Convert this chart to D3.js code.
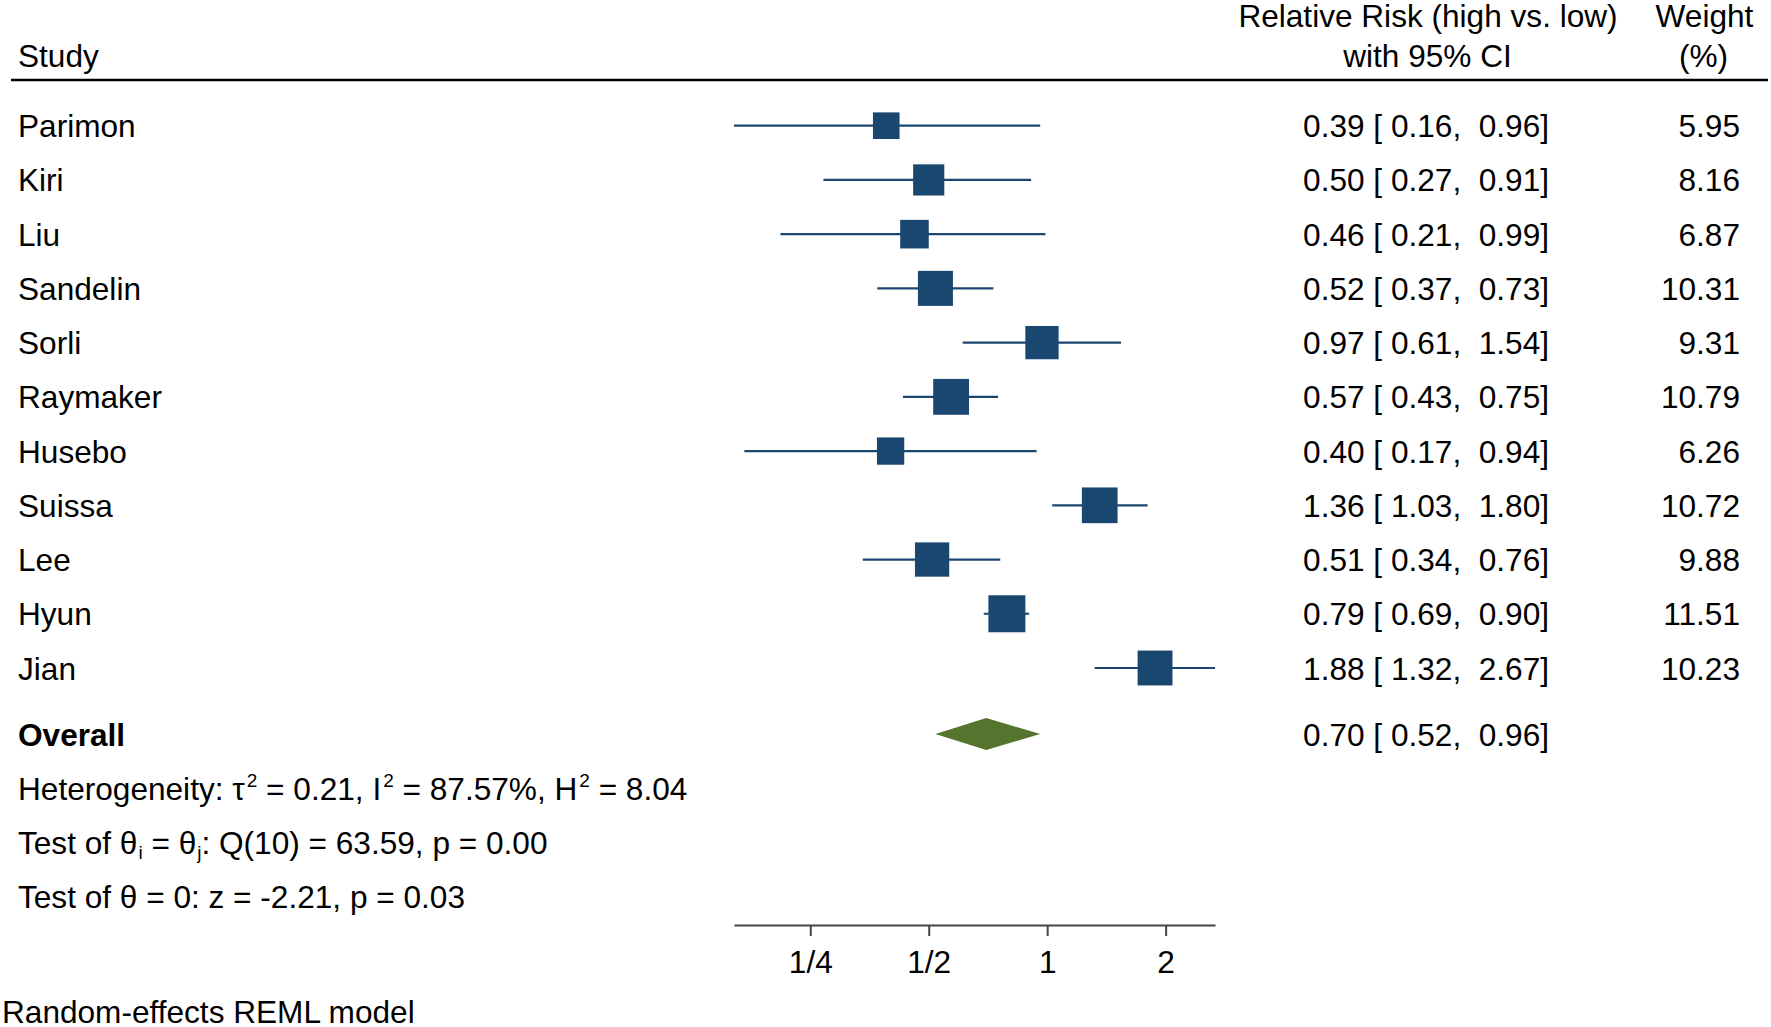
<!DOCTYPE html>
<html>
<head>
<meta charset="utf-8">
<script src="https://cdn.jsdelivr.net/npm/d3@7"></script>
<style>
  html, body { margin: 0; padding: 0; background: #fff; }
  svg text { font-family: "Liberation Sans", Arial, Helvetica, sans-serif; white-space: pre; }
</style>
</head>
<body>
<svg id="chart" width="1771" height="1027"></svg>
<script>
// ---- data ----
const studies = ["Parimon", "Kiri", "Liu", "Sandelin", "Sorli", "Raymaker", "Husebo", "Suissa", "Lee", "Hyun", "Jian"];
const rr      = [0.39, 0.50, 0.46, 0.52, 0.97, 0.57, 0.40, 1.36, 0.51, 0.79, 1.88];
const ciLow   = [0.16, 0.27, 0.21, 0.37, 0.61, 0.43, 0.17, 1.03, 0.34, 0.69, 1.32];
const ciHigh  = [0.96, 0.91, 0.99, 0.73, 1.54, 0.75, 0.94, 1.80, 0.76, 0.90, 2.67];
const weights = [5.95, 8.16, 6.87, 10.31, 9.31, 10.79, 6.26, 10.72, 9.88, 11.51, 10.23];
const overallLabel = "Overall";
const overall = [0.70, 0.52, 0.96]; // estimate, low, high
const tickValues = [0.25, 0.5, 1, 2];
const tickLabels = ["1/4", "1/2", "1", "2"];
const axisDomain = [0.16, 2.67];
const footer = "Random-effects REML model";

// ---- setup ----
const svg = d3.select("#chart");
const FS = 31.6;
const navy = "#1a476f";
const green = "#55752f";
const f2 = d3.format(".2f");

const x = d3.scaleLog().base(2).domain(axisDomain).range([734, 1215]);
const y = d3.scaleLinear().domain([0, 1]).range([125.7, 125.7 + 54.23]);
const yOverall = 734;
const size = d3.scaleSqrt().domain([0, d3.max(weights)]).range([0, 37]);
const BL = 11.5;

// ---- header ----
const hdr = svg.append("g").attr("font-size", FS).attr("fill", "#000");
hdr.append("text").attr("x", 18).attr("y", 67).text("Study");
hdr.append("text").attr("x", 1428).attr("y", 27).attr("text-anchor", "middle").text("Relative Risk (high vs. low)");
hdr.append("text").attr("x", 1427.5).attr("y", 67).attr("text-anchor", "middle").text("with 95% CI");
hdr.append("text").attr("x", 1704.5).attr("y", 27).attr("text-anchor", "middle").text("Weight");
hdr.append("text").attr("x", 1703.5).attr("y", 67).attr("text-anchor", "middle").text("(%)");
svg.append("line").attr("x1", 11).attr("x2", 1768).attr("y1", 80).attr("y2", 80)
  .attr("stroke", "#000").attr("stroke-width", 2.5);

// ---- study rows ----
const rows = svg.append("g").selectAll("g").data(studies).join("g");
rows.append("text").attr("x", 18).attr("y", (d, i) => y(i) + BL)
  .attr("font-size", FS).text(d => d);
rows.append("line")
  .attr("x1", (d, i) => x(ciLow[i])).attr("x2", (d, i) => x(ciHigh[i]))
  .attr("y1", (d, i) => y(i)).attr("y2", (d, i) => y(i))
  .attr("stroke", navy).attr("stroke-width", 2.2);
rows.append("rect")
  .attr("x", (d, i) => x(rr[i]) - size(weights[i]) / 2)
  .attr("y", (d, i) => y(i) - size(weights[i]) / 2)
  .attr("width", (d, i) => size(weights[i]))
  .attr("height", (d, i) => size(weights[i]))
  .attr("fill", navy);
rows.append("text").attr("x", 1549).attr("y", (d, i) => y(i) + BL)
  .attr("text-anchor", "end").attr("font-size", FS)
  .text((d, i) => `${f2(rr[i])} [ ${f2(ciLow[i])},  ${f2(ciHigh[i])}]`);
rows.append("text").attr("x", 1740).attr("y", (d, i) => y(i) + BL)
  .attr("text-anchor", "end").attr("font-size", FS)
  .text((d, i) => f2(weights[i]));

// ---- overall ----
svg.append("text").attr("x", 18).attr("y", yOverall + BL)
  .attr("font-size", FS).attr("font-weight", "bold").text(overallLabel);
svg.append("path")
  .attr("d", `M${x(overall[1])},${yOverall} L${x(overall[0])},${yOverall - 16} L${x(overall[2])},${yOverall} L${x(overall[0])},${yOverall + 16} Z`)
  .attr("fill", green);
svg.append("text").attr("x", 1549).attr("y", yOverall + BL)
  .attr("text-anchor", "end").attr("font-size", FS)
  .text(`${f2(overall[0])} [ ${f2(overall[1])},  ${f2(overall[2])}]`);

// ---- stats text ----
function richLine(yy, parts) {
  const t = svg.append("text").attr("x", 18).attr("y", yy).attr("font-size", FS);
  let pending = 0;
  parts.forEach(p => {
    if (typeof p === "string") {
      const s = t.append("tspan").text(p);
      if (pending) { s.attr("dy", pending); pending = 0; }
    } else if (p.sup) {
      t.append("tspan").attr("font-size", 19).attr("dx", 2).attr("dy", -13).text(p.sup);
      pending = 13;
    } else if (p.sub) {
      t.append("tspan").attr("font-size", 19).attr("dx", 1).attr("dy", 5).text(p.sub);
      pending = -5;
    }
  });
}
richLine(788.5 + BL, ["Heterogeneity: \u03C4", {sup: "2"}, " = 0.21, I", {sup: "2"}, " = 87.57%, H", {sup: "2"}, " = 8.04"]);
richLine(842.5 + BL, ["Test of \u03B8", {sub: "i"}, " = \u03B8", {sub: "j"}, ": Q(10) = 63.59, p = 0.00"]);
richLine(896 + BL, ["Test of \u03B8 = 0: z = -2.21, p = 0.03"]);

// ---- axis ----
const axis = d3.axisBottom(x)
  .tickValues(tickValues)
  .tickFormat((d, i) => tickLabels[i])
  .tickSize(11).tickSizeOuter(0).tickPadding(15);
const ax = svg.append("g").attr("transform", "translate(0,925)").call(axis);
ax.select(".domain").attr("stroke", "#444").attr("stroke-width", 2);
ax.selectAll(".tick line").attr("stroke", "#444").attr("stroke-width", 2);
ax.selectAll(".tick text").attr("font-size", FS).attr("fill", "#000")
  .attr("font-family", "'Liberation Sans', Arial, sans-serif");

// ---- footer ----
svg.append("text").attr("x", 2).attr("y", 1023).attr("font-size", FS).text(footer);
</script>
</body>
</html>
